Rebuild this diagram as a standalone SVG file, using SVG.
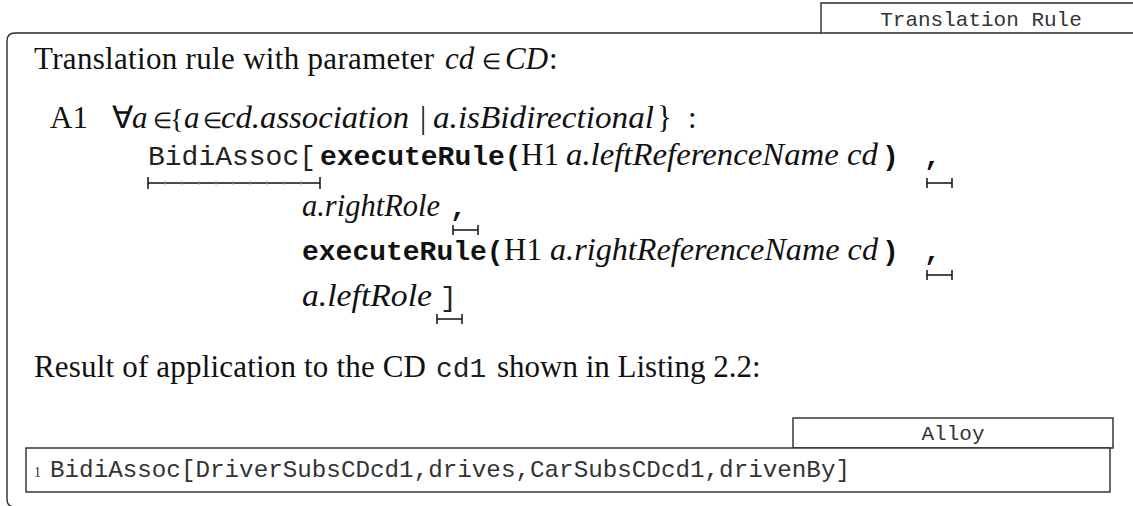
<svg xmlns="http://www.w3.org/2000/svg" width="1133" height="506" viewBox="0 0 1133 506">
<style>
.frame{fill:none;stroke:#2a2a2a;stroke-width:1.4}
.box{fill:#fff;stroke:#2a2a2a;stroke-width:1.4}
.s{font-family:"Liberation Serif","Times New Roman",serif;font-size:31px;fill:#111}
.i{font-family:"Liberation Serif","Times New Roman",serif;font-size:31px;font-style:italic;fill:#111}
.el{font-family:"Liberation Serif","Times New Roman",serif;font-size:22px;fill:#111}
.m{font-family:"Liberation Mono","Courier New",monospace;font-size:28px;fill:#222}
.mb{font-family:"Liberation Mono","Courier New",monospace;font-size:28px;font-weight:bold;fill:#111}
.tab{font-family:"Liberation Mono","Courier New",monospace;font-size:21px;fill:#333;text-anchor:middle}
.code{font-family:"Liberation Mono","Courier New",monospace;font-size:24px;fill:#333}
.ln{font-family:"Liberation Serif","Times New Roman",serif;font-size:14px;fill:#333}
.br{fill:none;stroke:#111;stroke-width:1.5}
.tk{fill:none;stroke:#999;stroke-width:0.8}
</style>

<g id="frame">
<path class="frame" d="M1133,33 H15 Q7,33 7,41 V499 Q7,507 15,507 H1133"/>
</g>

<g id="tab-translation-rule">
<path class="frame" d="M821,33 V3 H1135"/>
<text class="tab" x="981" y="26">Translation Rule</text>
</g>

<g id="intro">
<text class="s" x="34" y="69" textLength="400" lengthAdjust="spacing">Translation rule with parameter</text>
<text class="i" x="445" y="69">cd</text>
<text class="el" x="482" y="69">∈</text>
<text class="i" x="505" y="69">CD</text>
<text class="s" x="549" y="69">:</text>
</g>

<g id="rule-a1">
<text class="s" x="50" y="128">A1</text>
<text class="s" x="112" y="128">∀</text>
<text class="i" x="132" y="128">a</text>
<text class="el" x="153" y="128">∈</text>
<text class="s" x="170" y="128" style="font-size:28px">{</text>
<text class="i" x="184" y="128">a</text>
<text class="el" x="203" y="128">∈</text>
<text class="i" x="221" y="128" textLength="188" lengthAdjust="spacingAndGlyphs">cd.association</text>
<text class="s" x="420" y="128">|</text>
<text class="i" x="433" y="128" textLength="221" lengthAdjust="spacingAndGlyphs">a.isBidirectional</text>
<text class="s" x="657" y="128">}</text>
<text class="s" x="688" y="128">:</text>
</g>

<g id="line-bidiassoc">
<text class="m" x="148" y="165">BidiAssoc[</text>
<text class="mb" x="320" y="165">executeRule(</text>
<text class="s" x="521" y="165">H1</text>
<text class="i" x="566" y="165" textLength="312" lengthAdjust="spacingAndGlyphs">a.leftReferenceName cd</text>
<text class="mb" x="882" y="165">)</text>
<text class="mb" x="924" y="165">,</text>
</g>

<g id="line-rightrole">
<text class="i" x="302" y="216" textLength="138" lengthAdjust="spacingAndGlyphs">a.rightRole</text>
<text class="mb" x="450" y="216">,</text>
</g>

<g id="line-execute2">
<text class="mb" x="302" y="260">executeRule(</text>
<text class="s" x="504" y="260">H1</text>
<text class="i" x="550" y="260" textLength="328" lengthAdjust="spacingAndGlyphs">a.rightReferenceName cd</text>
<text class="mb" x="882" y="260">)</text>
<text class="mb" x="924" y="260">,</text>
</g>

<g id="line-leftrole">
<text class="i" x="302" y="306" textLength="130" lengthAdjust="spacingAndGlyphs">a.leftRole</text>
<text class="m" x="440" y="306">]</text>
</g>

<g id="connectors">
<path class="br" d="M148,177 V189 M148,183 H320 M320,177 V189"/>
<path class="tk" d="M165,181 V185 M182,181 V185 M199,181 V185 M216,181 V185 M233,181 V185 M250,181 V185 M267,181 V185 M284,181 V185 M301,181 V185"/>
<path class="br" d="M927,178 V188 M927,183 H952 M952,178 V188"/>
<path class="br" d="M453,225 V235 M453,230 H478 M478,225 V235"/>
<path class="br" d="M927,270 V280 M927,275 H952 M952,270 V280"/>
<path class="br" d="M437,314 V324 M437,319 H462 M462,314 V324"/>
</g>

<g id="result">
<text class="s" x="34" y="377" textLength="392" lengthAdjust="spacing">Result of application to the CD</text>
<text class="m" x="436" y="377">cd1</text>
<text class="s" x="497" y="377">shown in Listing 2.2:</text>
</g>

<g id="tab-alloy">
<rect class="box" x="793" y="418" width="320" height="30"/>
<text class="tab" x="953" y="440">Alloy</text>
</g>

<g id="code-box">
<rect class="box" x="26" y="448" width="1084" height="44"/>
<text class="ln" x="34" y="477">1</text>
<text class="code" x="50" y="477" textLength="800" lengthAdjust="spacingAndGlyphs">BidiAssoc[DriverSubsCDcd1,drives,CarSubsCDcd1,drivenBy]</text>
</g>
</svg>
